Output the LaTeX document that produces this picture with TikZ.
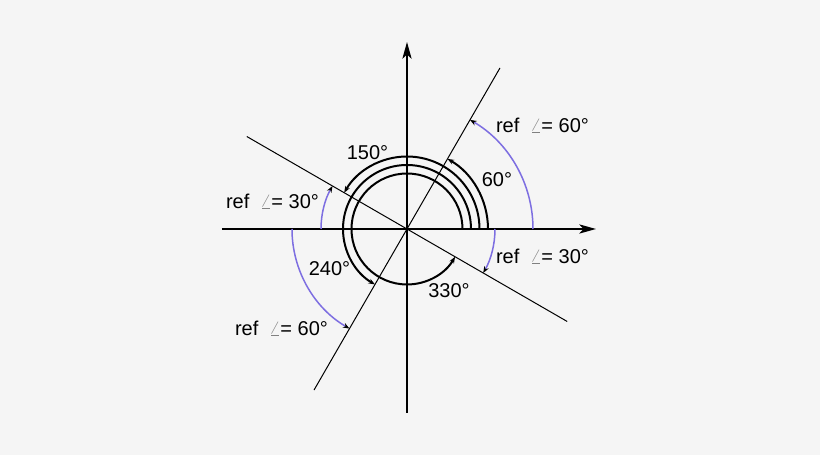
\documentclass[tikz,border=0pt]{standalone}
\usepackage{fontspec}
\setmainfont{Liberation Sans}
\usetikzlibrary{arrows.meta}
\definecolor{refarc}{RGB}{125,110,225}
\definecolor{paper}{RGB}{245,245,245}

\begin{document}
\begin{tikzpicture}[x=0.6pt,y=0.6pt,font=\fontsize{12}{14}\selectfont]
            \fill [paper] (-407,-226) rectangle (413,229);
            \coordinate (O) at (0,0);
            %坐标轴
            \draw [line width=1.2pt][-{Stealth[length=10pt,width=5.5pt,inset=2.5pt]}] (-185,0) -- (189,0);
            \draw [line width=1.2pt][-{Stealth[length=10pt,width=5.5pt,inset=2.5pt]}] (0,-184) -- (0,187);
            %终边
            \draw [semithick] (240:186) -- (60:186);
            \draw [semithick] (150:185) -- (330:185);
            %角
            \draw [line width=1.2pt][-{Stealth[length=4pt,width=3pt]}] (0:81) arc [start angle=0,end angle=60,radius=81];
            \draw [line width=1.2pt][-{Stealth[length=4pt,width=3pt]}] (0:72.5) arc [start angle=0,end angle=150,radius=72.5];
            \draw [line width=1.2pt][-{Stealth[length=4pt,width=3pt]}] (0:64) arc [start angle=0,end angle=240,radius=64];
            \draw [line width=1.2pt][-{Stealth[length=4pt,width=3pt]}] (0:55.5) arc [start angle=0,end angle=330,radius=55.5];
            %参考角
            \draw [refarc,line width=0.9pt][-{Stealth[length=4pt,width=3pt,color=black]}] (0:126) arc [start angle=0,end angle=60,radius=126];
            \draw [refarc,line width=0.9pt][-{Stealth[length=4pt,width=3pt,color=black]}] (180:86) arc [start angle=180,end angle=150,radius=86];
            \draw [refarc,line width=0.9pt][-{Stealth[length=4pt,width=3pt,color=black]}] (180:115) arc [start angle=180,end angle=240,radius=115];
            \draw [refarc,line width=0.9pt][-{Stealth[length=4pt,width=3pt,color=black]}] (0:88) arc [start angle=360,end angle=330,radius=88];
            %标注
            \draw (-39.5,76.5) node {150°} (90,49) node {60°} (-77.5,-40) node {240°} (42,-62) node {330°};
            \draw (135.5,104) node {ref \ \textcolor{gray}{\large$\angle$}= 60°} (-134.5,28) node {ref \ \textcolor{gray}{\large$\angle$}= 30°};
            \draw (-125.5,-99) node {ref \ \textcolor{gray}{\large$\angle$}= 60°} (135.5,-27) node {ref \ \textcolor{gray}{\large$\angle$}= 30°};
    \end{tikzpicture}
\end{document}
